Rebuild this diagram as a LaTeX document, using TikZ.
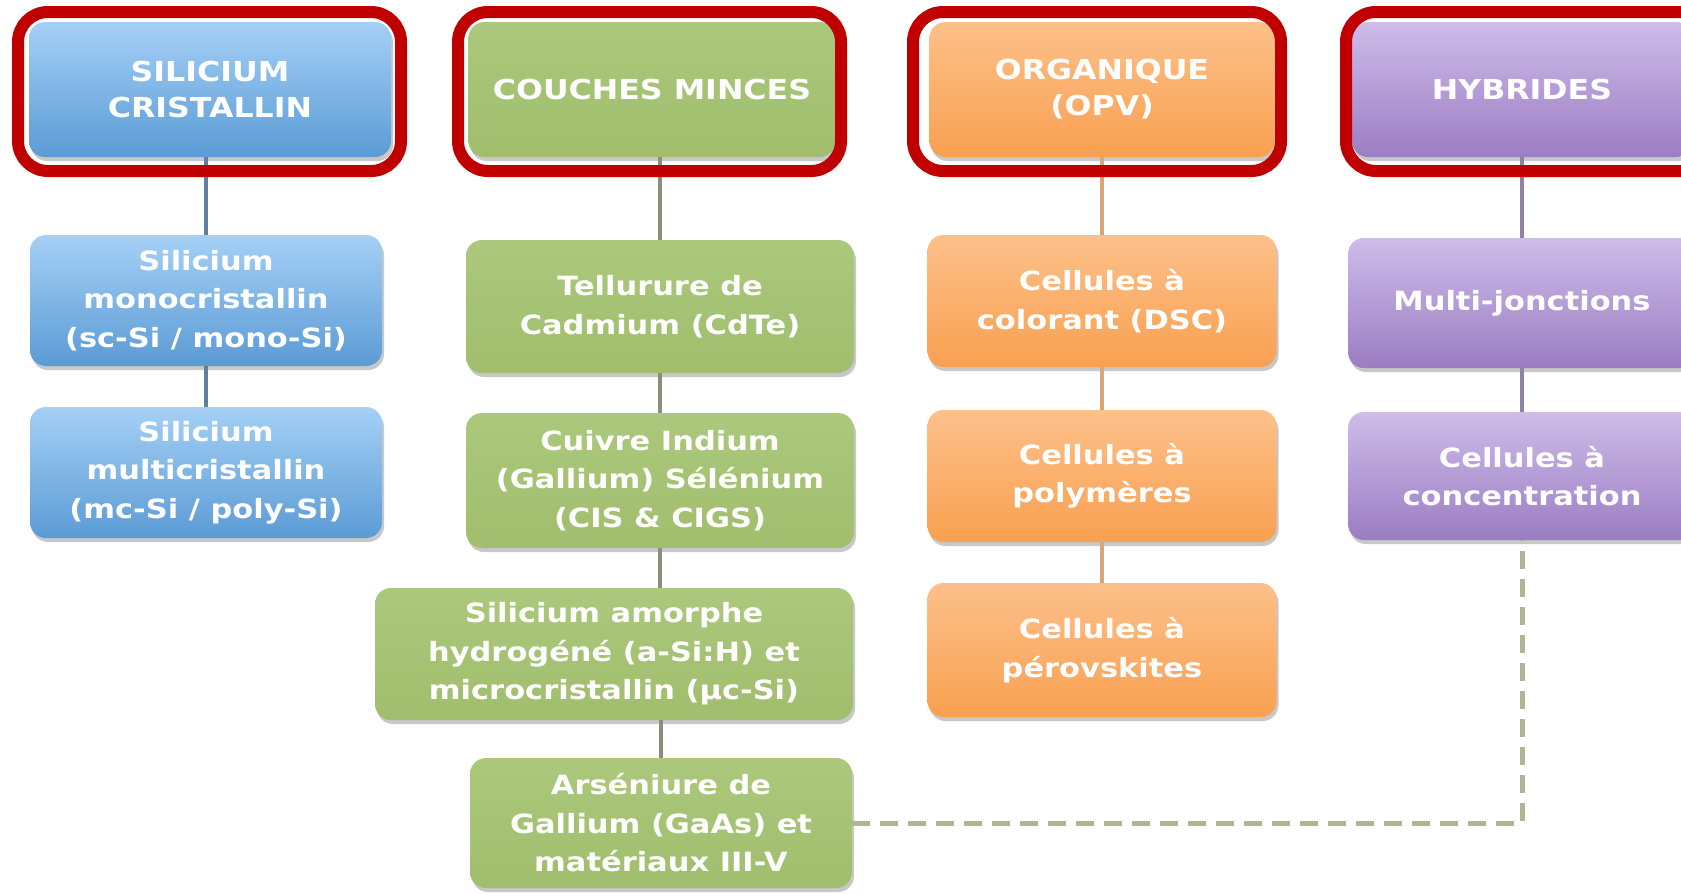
\documentclass[tikz,border=0pt]{standalone}
\usepackage{fontspec}
\newfontfamily\boxfont[FakeStretch=1.15]{DejaVu Sans}
\usetikzlibrary{shadows}
\definecolor{bluetop}{HTML}{A5D0F6}
\definecolor{bluebot}{HTML}{5B9BD5}
\definecolor{greentop}{HTML}{ABC87C}
\definecolor{greenbot}{HTML}{A0BE6D}
\definecolor{orangetop}{HTML}{FDC08A}
\definecolor{orangebot}{HTML}{F9A050}
\definecolor{purpletop}{HTML}{CEBCE9}
\definecolor{purplebot}{HTML}{9B7DC3}
\definecolor{frame}{HTML}{C00000}
\definecolor{conblue}{HTML}{5F7F9F}
\definecolor{congreen}{HTML}{8A8F78}
\definecolor{conorange}{HTML}{D9A679}
\definecolor{conpurple}{HTML}{8F82A6}
\definecolor{dashcol}{HTML}{B3B395}
\begin{document}
\begin{tikzpicture}[x=1pt,y=-1pt,
  box/.style={rectangle, rounded corners=16pt, align=center, text=white, inner sep=0pt,
    font=\boxfont\bfseries\fontsize{26.5}{38.5}\selectfont,
    drop shadow={shadow xshift=2pt, shadow yshift=-4pt, opacity=0.3, fill=black!70}},
  titlebox/.style={font=\boxfont\bfseries\fontsize{27.5}{36}\selectfont},
  bluebox/.style={box, top color=bluetop, bottom color=bluebot},
  greenbox/.style={box, top color=greentop, bottom color=greenbot},
  orangebox/.style={box, top color=orangetop, bottom color=orangebot},
  purplebox/.style={box, top color=purpletop, bottom color=purplebot},
  redframe/.style={draw=frame, line width=12pt, rounded corners=30pt},
  conn/.style={line width=3.5pt},
  dashline/.style={draw=dashcol, line width=5pt, dash pattern=on 18pt off 10pt}
]
\useasboundingbox (0,0) rectangle (1681,894);
\clip (0,0) rectangle (1681,894);
\fill[white] (0,0) rectangle (1681,894);

% column 1
\node[bluebox, titlebox, minimum width=362pt, minimum height=135pt] (t1) at (210,89.5) {SILICIUM\\CRISTALLIN};
\node[bluebox, minimum width=352pt, minimum height=131pt] (s1a) at (206,300.5) {Silicium\\monocristallin\\(sc-Si / mono-Si)};
\node[bluebox, minimum width=352pt, minimum height=131pt] (s1b) at (206,472.5) {Silicium\\multicristallin\\(mc-Si / poly-Si)};

% column 2
\node[greenbox, titlebox, minimum width=367pt, minimum height=135pt] (t2) at (652,89.5) {COUCHES MINCES};
\node[greenbox, minimum width=388pt, minimum height=133pt] (s2a) at (660,306.5) {Tellurure de\\Cadmium (CdTe)};
\node[greenbox, minimum width=388pt, minimum height=135pt] (s2b) at (660,480.5) {Cuivre Indium\\(Gallium) Sélénium\\(CIS \& CIGS)};
\node[greenbox, minimum width=478pt, minimum height=132pt] (s2c) at (614,654) {Silicium amorphe\\hydrogéné (a-Si:H) et\\microcristallin (µc-Si)};
\node[greenbox, minimum width=382pt, minimum height=130pt] (s2d) at (661,823) {Arséniure de\\Gallium (GaAs) et\\matériaux III-V};

% column 3
\node[orangebox, titlebox, minimum width=345pt, minimum height=135pt] (t3) at (1102,89.5) {ORGANIQUE\\(OPV)};
\node[orangebox, minimum width=349pt, minimum height=132pt] (s3a) at (1102,301) {Cellules à\\colorant (DSC)};
\node[orangebox, minimum width=349pt, minimum height=132pt] (s3b) at (1102,476) {Cellules à\\polymères};
\node[orangebox, minimum width=349pt, minimum height=134pt] (s3c) at (1102,650) {Cellules à\\pérovskites};

% column 4
\node[purplebox, titlebox, minimum width=340pt, minimum height=135pt] (t4) at (1522,89.5) {HYBRIDES};
\node[purplebox, minimum width=348pt, minimum height=130pt] (s4a) at (1522,303) {Multi-jonctions};
\node[purplebox, minimum width=348pt, minimum height=128pt] (s4b) at (1522,476) {Cellules à\\concentration};

% connectors
\draw[conn, conblue] (t1.south -| s1a.north) -- (s1a.north);
\draw[conn, conblue] (s1a.south) -- (s1b.north);
\draw[conn, congreen] (t2.south -| s2a.north) -- (s2a.north);
\draw[conn, congreen] (s2a.south) -- (s2b.north);
\draw[conn, congreen] (s2b.south) -- (s2b.south |- s2c.north);
\draw[conn, congreen] (s2c.south -| s2d.north) -- (s2d.north);
\draw[conn, conorange] (t3.south) -- (s3a.north);
\draw[conn, conorange] (s3a.south) -- (s3b.north);
\draw[conn, conorange] (s3b.south) -- (s3c.north);
\draw[conn, conpurple] (t4.south) -- (s4a.north);
\draw[conn, conpurple] (s4a.south) -- (s4b.north);
\draw[dashline] (s2d.east) -| (s4b.south);

% red highlight frames
\draw[redframe] (18,12) rectangle (401,171);
\draw[redframe] (458,12) rectangle (841,171);
\draw[redframe] (913,12) rectangle (1281,171);
\draw[redframe] (1346,12) rectangle (1712,171);
\end{tikzpicture}
\end{document}
